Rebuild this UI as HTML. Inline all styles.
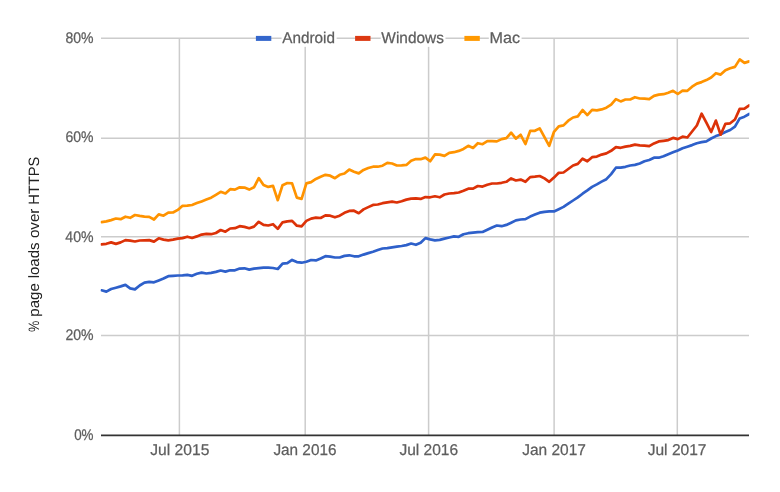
<!DOCTYPE html>
<html><head><meta charset="utf-8"><style>
html,body{margin:0;padding:0;background:#fff;width:780px;height:492px;overflow:hidden}
svg{display:block;will-change:transform}
text{font-family:"Liberation Sans",sans-serif;text-rendering:geometricPrecision}
</style></head><body>
<svg width="780" height="492" viewBox="0 0 780 492">
<rect width="780" height="492" fill="#fff"/>
<line x1="101" y1="335.5" x2="749" y2="335.5" stroke="#cccccc" stroke-width="1.5"/>
<line x1="101" y1="236.8" x2="749" y2="236.8" stroke="#cccccc" stroke-width="1.5"/>
<line x1="101" y1="138.2" x2="749" y2="138.2" stroke="#cccccc" stroke-width="1.5"/>
<line x1="101" y1="38.3" x2="749" y2="38.3" stroke="#cccccc" stroke-width="1.5"/>
<line x1="179.4" y1="38.3" x2="179.4" y2="435" stroke="#cccccc" stroke-width="1.5"/>
<line x1="305.2" y1="38.3" x2="305.2" y2="435" stroke="#cccccc" stroke-width="1.5"/>
<line x1="428.6" y1="38.3" x2="428.6" y2="435" stroke="#cccccc" stroke-width="1.5"/>
<line x1="554.1" y1="38.3" x2="554.1" y2="435" stroke="#cccccc" stroke-width="1.5"/>
<line x1="677.3" y1="38.3" x2="677.3" y2="435" stroke="#cccccc" stroke-width="1.5"/>
<clipPath id="pa"><rect x="100.6" y="20" width="648.8" height="420"/></clipPath>
<g clip-path="url(#pa)">
<path d="M101.60,290.30 L106.36,291.60 L111.12,289.00 L115.89,287.70 L120.65,286.40 L125.41,284.90 L130.17,288.40 L134.93,289.40 L139.70,285.50 L144.46,282.60 L149.22,281.90 L153.98,282.30 L158.74,280.40 L163.51,278.50 L168.27,276.20 L173.03,275.80 L177.79,275.50 L182.55,275.30 L187.32,274.90 L192.08,275.80 L196.84,273.80 L201.60,272.60 L206.36,273.50 L211.13,272.80 L215.89,271.90 L220.65,270.50 L225.41,271.60 L230.17,270.30 L234.94,270.30 L239.70,268.60 L244.46,268.30 L249.22,269.60 L253.98,268.60 L258.75,268.10 L263.51,267.70 L268.27,267.70 L273.03,268.00 L277.79,269.00 L282.56,263.60 L287.32,263.20 L292.08,259.90 L296.84,262.10 L301.60,262.70 L306.37,261.70 L311.13,260.00 L315.89,260.40 L320.65,258.50 L325.41,256.20 L330.18,256.60 L334.94,257.50 L339.70,257.50 L344.46,255.90 L349.22,255.30 L353.99,256.30 L358.75,256.30 L363.51,254.60 L368.27,253.10 L373.03,251.80 L377.80,250.10 L382.56,248.50 L387.32,248.20 L392.08,247.30 L396.84,246.70 L401.61,246.00 L406.37,245.10 L411.13,243.50 L415.89,244.80 L420.65,242.80 L425.42,238.10 L430.18,239.40 L434.94,240.30 L439.70,239.90 L444.46,238.60 L449.23,237.50 L453.99,236.40 L458.75,236.80 L463.51,234.20 L468.27,233.20 L473.04,232.60 L477.80,232.20 L482.56,232.00 L487.32,229.80 L492.08,227.50 L496.85,225.50 L501.61,226.20 L506.37,224.90 L511.13,222.70 L515.89,220.40 L520.66,219.50 L525.42,219.10 L530.18,216.60 L534.94,214.60 L539.70,212.70 L544.47,211.80 L549.23,211.40 L553.99,211.40 L558.75,209.20 L563.51,206.90 L568.28,203.70 L573.04,200.50 L577.80,197.40 L582.56,193.70 L587.32,190.40 L592.09,186.90 L596.85,184.40 L601.61,181.60 L606.37,179.20 L611.13,174.10 L615.90,167.70 L620.66,167.70 L625.42,166.80 L630.18,165.50 L634.94,164.90 L639.71,163.50 L644.47,161.30 L649.23,160.00 L653.99,157.70 L658.75,157.70 L663.52,156.20 L668.28,154.20 L673.04,152.30 L677.80,150.50 L682.56,148.30 L687.33,146.70 L692.09,145.10 L696.85,143.20 L701.61,142.10 L706.37,141.30 L711.14,138.50 L715.90,136.10 L720.66,134.40 L725.42,132.00 L730.18,130.00 L734.95,126.60 L739.71,118.40 L744.47,116.70 L749.23,114.00" fill="none" stroke="#2e60ca" stroke-width="2.7" stroke-linejoin="round" stroke-linecap="round"/>
<path d="M101.60,244.30 L106.36,243.80 L111.12,242.40 L115.89,243.90 L120.65,242.40 L125.41,240.10 L130.17,240.70 L134.93,241.50 L139.70,240.50 L144.46,240.30 L149.22,240.10 L153.98,241.60 L158.74,238.30 L163.51,239.60 L168.27,240.30 L173.03,239.60 L177.79,238.60 L182.55,238.10 L187.32,236.70 L192.08,238.00 L196.84,236.40 L201.60,234.60 L206.36,233.90 L211.13,234.20 L215.89,233.00 L220.65,230.00 L225.41,231.70 L230.17,228.50 L234.94,228.20 L239.70,226.20 L244.46,226.90 L249.22,228.20 L253.98,226.60 L258.75,221.80 L263.51,224.90 L268.27,225.50 L273.03,224.20 L277.79,228.90 L282.56,222.30 L287.32,221.40 L292.08,220.90 L296.84,225.70 L301.60,226.30 L306.37,220.90 L311.13,218.60 L315.89,217.70 L320.65,218.00 L325.41,215.40 L330.18,215.70 L334.94,217.30 L339.70,215.70 L344.46,212.80 L349.22,210.90 L353.99,210.70 L358.75,213.20 L363.51,209.40 L368.27,207.10 L373.03,204.90 L377.80,204.50 L382.56,203.20 L387.32,202.30 L392.08,201.60 L396.84,202.50 L401.61,201.20 L406.37,199.60 L411.13,198.60 L415.89,198.30 L420.65,198.90 L425.42,197.10 L430.18,197.30 L434.94,196.30 L439.70,197.30 L444.46,194.50 L449.23,193.50 L453.99,193.10 L458.75,192.50 L463.51,190.70 L468.27,188.70 L473.04,188.70 L477.80,186.00 L482.56,186.60 L487.32,184.80 L492.08,183.50 L496.85,183.50 L501.61,182.80 L506.37,181.80 L511.13,178.40 L515.89,180.50 L520.66,179.60 L525.42,181.80 L530.18,177.10 L534.94,176.70 L539.70,176.00 L544.47,178.40 L549.23,181.80 L553.99,177.60 L558.75,172.80 L563.51,172.50 L568.28,169.00 L573.04,165.50 L577.80,163.90 L582.56,158.70 L587.32,161.30 L592.09,157.20 L596.85,156.60 L601.61,154.60 L606.37,153.40 L611.13,150.80 L615.90,147.20 L620.66,147.80 L625.42,146.60 L630.18,145.90 L634.94,144.60 L639.71,145.30 L644.47,145.70 L649.23,146.20 L653.99,143.40 L658.75,141.40 L663.52,140.80 L668.28,140.10 L673.04,137.90 L677.80,139.10 L682.56,136.70 L687.33,137.50 L692.09,131.50 L696.85,125.50 L701.61,113.70 L706.37,122.70 L711.14,132.00 L715.90,120.60 L720.66,134.70 L725.42,123.80 L730.18,123.30 L734.95,119.50 L739.71,108.90 L744.47,108.60 L749.23,105.30" fill="none" stroke="#dc3208" stroke-width="2.7" stroke-linejoin="round" stroke-linecap="round"/>
<path d="M101.60,222.10 L106.36,221.40 L111.12,220.10 L115.89,218.50 L120.65,219.20 L125.41,216.70 L130.17,217.80 L134.93,215.00 L139.70,215.90 L144.46,216.60 L149.22,216.90 L153.98,219.50 L158.74,214.40 L163.51,215.70 L168.27,212.70 L173.03,212.50 L177.79,209.90 L182.55,205.80 L187.32,205.70 L192.08,205.00 L196.84,203.10 L201.60,201.40 L206.36,199.60 L211.13,197.70 L215.89,194.80 L220.65,191.80 L225.41,193.50 L230.17,189.20 L234.94,189.60 L239.70,187.30 L244.46,187.60 L249.22,189.60 L253.98,187.30 L258.75,178.10 L263.51,185.00 L268.27,186.90 L273.03,185.90 L277.79,200.20 L282.56,185.20 L287.32,183.00 L292.08,183.40 L296.84,197.60 L301.60,198.90 L306.37,183.40 L311.13,182.10 L315.89,178.90 L320.65,176.70 L325.41,174.80 L330.18,175.70 L334.94,178.20 L339.70,174.80 L344.46,173.50 L349.22,169.60 L353.99,171.80 L358.75,173.40 L363.51,169.90 L368.27,168.00 L373.03,166.70 L377.80,166.70 L382.56,165.70 L387.32,162.90 L392.08,163.50 L396.84,165.50 L401.61,165.30 L406.37,164.90 L411.13,160.80 L415.89,159.10 L420.65,159.20 L425.42,157.60 L430.18,161.20 L434.94,154.40 L439.70,154.60 L444.46,155.90 L449.23,152.80 L453.99,152.20 L458.75,150.90 L463.51,148.90 L468.27,145.80 L473.04,148.00 L477.80,143.20 L482.56,144.20 L487.32,141.20 L492.08,141.20 L496.85,141.40 L501.61,139.10 L506.37,138.20 L511.13,132.70 L515.89,138.60 L520.66,134.80 L525.42,144.00 L530.18,130.90 L534.94,130.80 L539.70,128.40 L544.47,137.10 L549.23,145.90 L553.99,131.80 L558.75,126.30 L563.51,125.40 L568.28,120.70 L573.04,117.50 L577.80,116.40 L582.56,110.00 L587.32,115.10 L592.09,109.80 L596.85,110.40 L601.61,109.40 L606.37,107.70 L611.13,104.60 L615.90,99.10 L620.66,101.40 L625.42,99.50 L630.18,99.50 L634.94,97.20 L639.71,98.50 L644.47,98.70 L649.23,99.10 L653.99,95.90 L658.75,94.60 L663.52,94.20 L668.28,92.70 L673.04,90.80 L677.80,94.00 L682.56,90.60 L687.33,90.80 L692.09,86.70 L696.85,83.60 L701.61,82.10 L706.37,80.10 L711.14,77.50 L715.90,73.20 L720.66,74.60 L725.42,70.20 L730.18,68.30 L734.95,66.90 L739.71,59.40 L744.47,62.90 L749.23,61.40" fill="none" stroke="#ff9300" stroke-width="2.7" stroke-linejoin="round" stroke-linecap="round"/>
</g>
<line x1="101" y1="435.4" x2="749" y2="435.4" stroke="#333333" stroke-width="1.6"/>
<rect x="281.60" y="29.85" width="55.03" height="17" fill="#fff"/>
<text x="282.20" y="42.85" font-size="15.6" fill="#5e5e5e" stroke="#5e5e5e" stroke-width="0.25" textLength="52.83" lengthAdjust="spacingAndGlyphs">Android</text>
<rect x="380.75" y="29.85" width="64.72" height="17" fill="#fff"/>
<text x="381.35" y="42.85" font-size="15.6" fill="#5e5e5e" stroke="#5e5e5e" stroke-width="0.25" textLength="62.52" lengthAdjust="spacingAndGlyphs">Windows</text>
<rect x="488.81" y="29.85" width="32.77" height="17" fill="#fff"/>
<text x="489.41" y="42.85" font-size="15.6" fill="#5e5e5e" stroke="#5e5e5e" stroke-width="0.25" textLength="30.57" lengthAdjust="spacingAndGlyphs">Mac</text>
<text x="65.44" y="42.65" font-size="15.4" fill="#5e5e5e" stroke="#5e5e5e" stroke-width="0.25" textLength="28.11" lengthAdjust="spacingAndGlyphs">80%</text>
<text x="65.50" y="141.95" font-size="15.4" fill="#5e5e5e" stroke="#5e5e5e" stroke-width="0.25" textLength="28.04" lengthAdjust="spacingAndGlyphs">60%</text>
<text x="65.32" y="241.65" font-size="15.4" fill="#5e5e5e" stroke="#5e5e5e" stroke-width="0.25" textLength="28.23" lengthAdjust="spacingAndGlyphs">40%</text>
<text x="65.40" y="340.45" font-size="15.4" fill="#5e5e5e" stroke="#5e5e5e" stroke-width="0.25" textLength="28.15" lengthAdjust="spacingAndGlyphs">20%</text>
<text x="74.16" y="439.65" font-size="15.4" fill="#5e5e5e" stroke="#5e5e5e" stroke-width="0.25" textLength="19.41" lengthAdjust="spacingAndGlyphs">0%</text>
<text x="150.29" y="455.0" font-size="15.6" fill="#5e5e5e" stroke="#5e5e5e" stroke-width="0.25" textLength="59.05" lengthAdjust="spacingAndGlyphs">Jul 2015</text>
<text x="273.39" y="455.0" font-size="15.6" fill="#5e5e5e" stroke="#5e5e5e" stroke-width="0.25" textLength="63.09" lengthAdjust="spacingAndGlyphs">Jan 2016</text>
<text x="399.39" y="455.0" font-size="15.6" fill="#5e5e5e" stroke="#5e5e5e" stroke-width="0.25" textLength="58.74" lengthAdjust="spacingAndGlyphs">Jul 2016</text>
<text x="522.29" y="455.0" font-size="15.6" fill="#5e5e5e" stroke="#5e5e5e" stroke-width="0.25" textLength="63.66" lengthAdjust="spacingAndGlyphs">Jan 2017</text>
<text x="647.69" y="455.0" font-size="15.6" fill="#5e5e5e" stroke="#5e5e5e" stroke-width="0.25" textLength="58.80" lengthAdjust="spacingAndGlyphs">Jul 2017</text>
<text transform="translate(39.0,331.91) rotate(-90)" font-size="15.0" fill="#222222" textLength="11.31" lengthAdjust="spacingAndGlyphs">%</text>
<text transform="translate(39.0,316.65) rotate(-90)" font-size="15.0" fill="#222222" textLength="33.42" lengthAdjust="spacingAndGlyphs">page</text>
<text transform="translate(39.0,278.35) rotate(-90)" font-size="15.0" fill="#222222" textLength="35.96" lengthAdjust="spacingAndGlyphs">loads</text>
<text transform="translate(39.0,238.11) rotate(-90)" font-size="15.0" fill="#222222" textLength="29.54" lengthAdjust="spacingAndGlyphs">over</text>
<text transform="translate(39.0,204.67) rotate(-90)" font-size="15.0" fill="#222222" textLength="48.08" lengthAdjust="spacingAndGlyphs">HTTPS</text>
<rect x="255.9" y="35.9" width="15.4" height="5" fill="#3366cc"/>
<rect x="355.1" y="35.9" width="15.4" height="5" fill="#dc3912"/>
<rect x="464.4" y="35.9" width="15.4" height="5" fill="#ff9900"/>
</svg>
</body></html>
